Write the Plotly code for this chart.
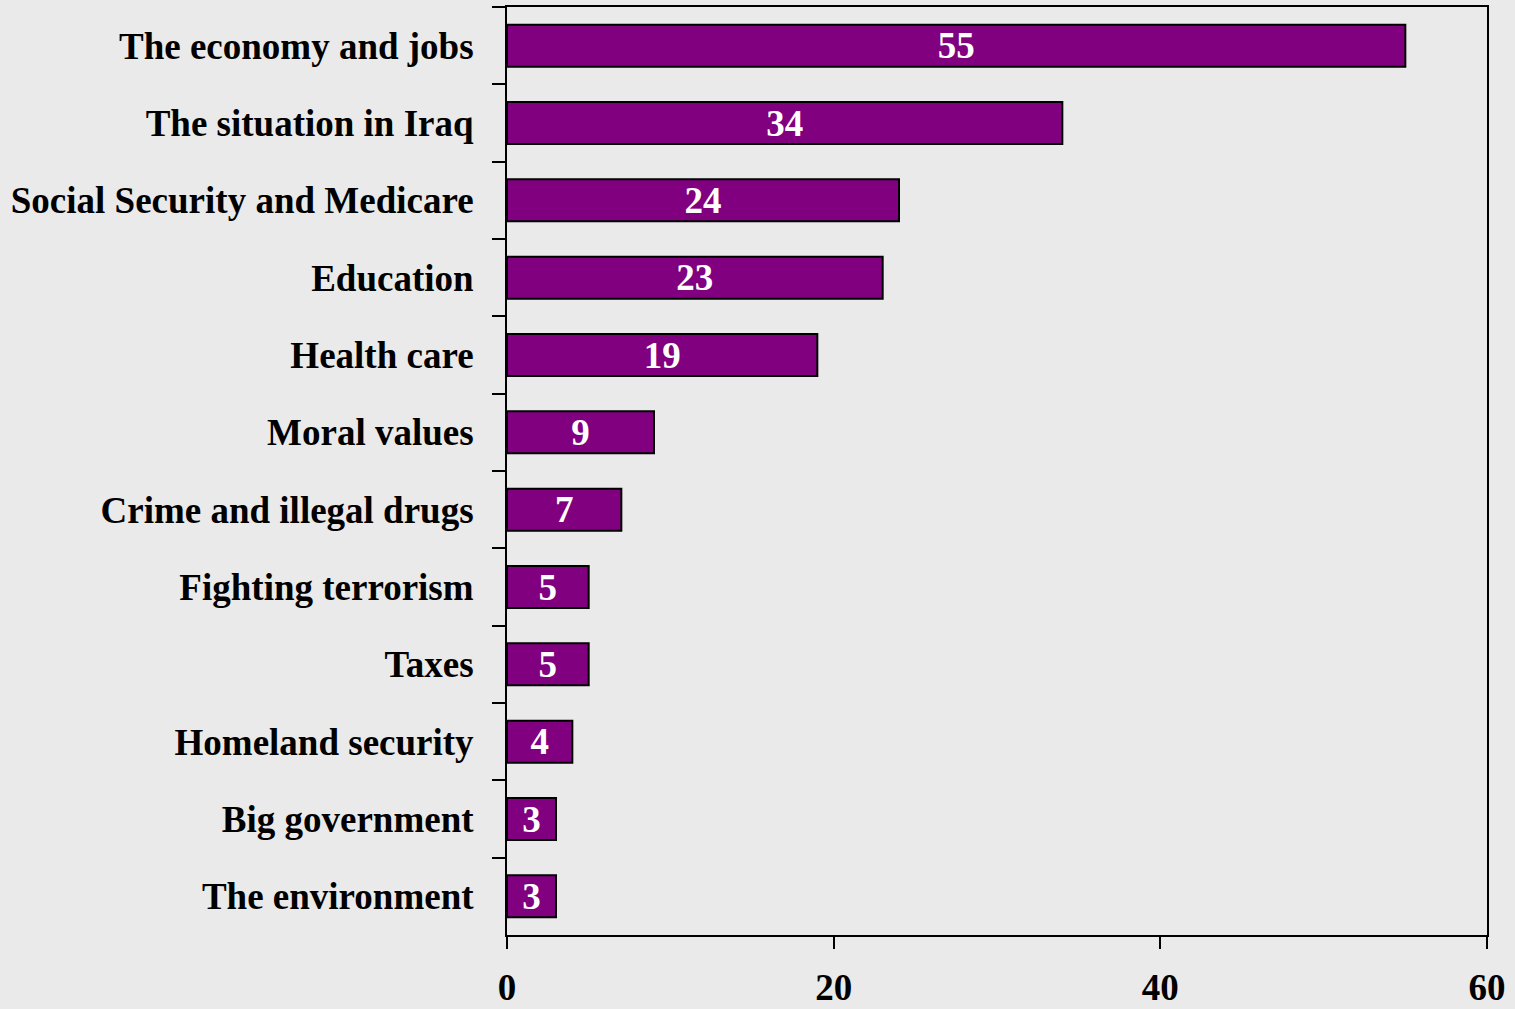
import plotly.graph_objects as go

categories = [
    "The economy and jobs",
    "The situation in Iraq",
    "Social Security and Medicare",
    "Education",
    "Health care",
    "Moral values",
    "Crime and illegal drugs",
    "Fighting terrorism",
    "Taxes",
    "Homeland security",
    "Big government",
    "The environment",
]
values = [55, 34, 24, 23, 19, 9, 7, 5, 5, 4, 3, 3]
x_ticks = [0, 20, 40, 60]

FONT = "Liberation Serif, Times New Roman, serif"
BG = "#EAEAEA"
FS = 37

fig = go.Figure(
    go.Bar(
        x=values,
        y=categories,
        orientation="h",
        marker=dict(color="#800080", line=dict(color="black", width=2)),
        text=[str(v) for v in values],
        textposition="inside",
        insidetextanchor="middle",
        textangle=0,
        textfont=dict(family=FONT, size=FS, color="white", weight="bold"),
        cliponaxis=False,
    )
)

fig.update_layout(
    width=1515,
    height=1009,
    paper_bgcolor=BG,
    plot_bgcolor=BG,
    margin=dict(l=507, r=28, t=7, b=74, autoexpand=False),
    bargap=0.457,
    showlegend=False,
    uniformtext=dict(minsize=FS, mode="show"),
    font=dict(family=FONT, size=FS, color="black", weight="bold"),
)

fig.update_xaxes(
    range=[0, 60],
    tickvals=x_ticks,
    ticktext=[str(t) for t in x_ticks],
    ticks="outside",
    ticklen=12,
    tickwidth=2,
    tickcolor="black",
    showline=True,
    linecolor="black",
    linewidth=2,
    mirror=True,
    showgrid=False,
    zeroline=False,
    automargin=False,
    ticklabelstandoff=7,
    tickfont=dict(family=FONT, size=FS, color="black", weight="bold"),
)

fig.update_yaxes(
    autorange="reversed",
    ticks="outside",
    tickson="boundaries",
    ticklen=13,
    tickwidth=2,
    tickcolor="black",
    showline=True,
    linecolor="black",
    linewidth=2,
    mirror=True,
    showgrid=False,
    zeroline=False,
    automargin=False,
    ticklabelstandoff=24,
    tickfont=dict(family=FONT, size=FS, color="black", weight="bold"),
)

fig.write_html(
    "out.html",
    config={"displayModeBar": False},
    post_script="document.body.style.margin='0';document.body.style.overflow='hidden';",
)
